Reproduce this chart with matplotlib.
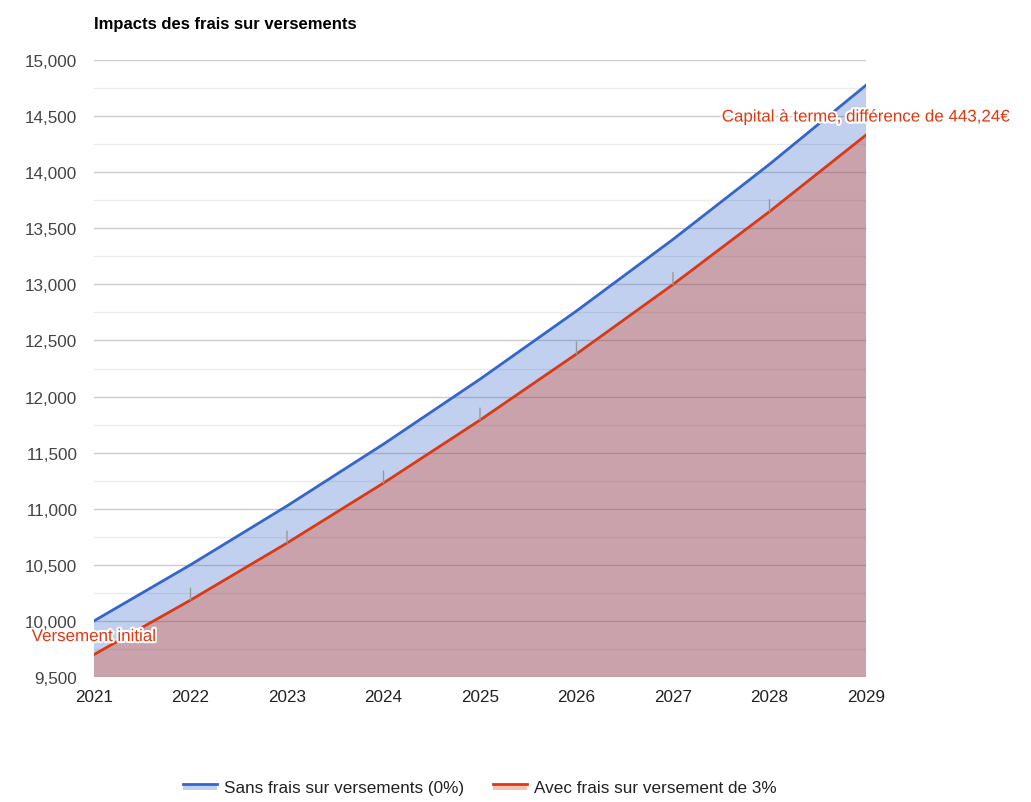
import matplotlib

matplotlib.use("Agg")
import matplotlib.pyplot as plt
from matplotlib.legend_handler import HandlerBase
from matplotlib.lines import Line2D
from matplotlib.patches import Rectangle
from matplotlib.ticker import MultipleLocator
import matplotlib.patheffects as pe

plt.rcParams["font.family"] = ["Liberation Sans", "DejaVu Sans"]

years = [2021, 2022, 2023, 2024, 2025, 2026, 2027, 2028, 2029]
sans_frais = [10000, 10500, 11025, 11576, 12155, 12763, 13401, 14071, 14775]
avec_frais = [9700, 10185, 10694, 11229, 11790, 12380, 12999, 13649, 14331]
annotations = ["Versement initial", "", "", "", "", "", "", "",
               "Capital à terme, différence de 443,24€"]
series_labels = ["Sans frais sur versements (0%)", "Avec frais sur versement de 3%"]
title = "Impacts des frais sur versements"

BLUE = "#3366cc"
RED = "#dc3912"


class AreaHandler(HandlerBase):
    """Legend sample: light box with the series line on top."""

    def create_artists(self, legend, orig, xdescent, ydescent, width, height,
                       fontsize, trans):
        color = orig.get_color()
        top = height * 0.75
        box = Rectangle((-xdescent, top - height * 0.55), width, height * 0.55,
                        facecolor=color, alpha=0.3, edgecolor="none",
                        transform=trans)
        line = Line2D([-xdescent, width - xdescent], [top, top], color=color,
                      linewidth=2, transform=trans)
        return [box, line]


fig = plt.figure(figsize=(10.31, 8.03), dpi=100)
ax = fig.add_axes([94 / 1031, 1 - 678 / 803, (866 - 94) / 1031, (678 - 61) / 803])

handles = []
for values, color in ((sans_frais, BLUE), (avec_frais, RED)):
    ax.fill_between(years, 0, values, color=color, alpha=0.3, linewidth=0)
    (line,) = ax.plot(years, values, color=color, linewidth=2)
    handles.append(line)

for year, value, text in zip(years, avec_frais, annotations):
    if text:
        ax.annotate(text, xy=(year, value), xytext=(0, 18),
                    textcoords="offset pixels", ha="center", va="center",
                    fontsize=12.2, color=RED, annotation_clip=False,
                    path_effects=[pe.withStroke(linewidth=3, foreground="white")])
    else:
        ax.annotate("", xy=(year, value), xytext=(0, 12),
                    textcoords="offset pixels",
                    arrowprops=dict(arrowstyle="-", color="#999999", lw=1,
                                    shrinkA=0, shrinkB=0))

ax.set_xlim(years[0], years[-1])
ax.set_ylim(9500, 15000)
ax.set_xticks(years)
ax.yaxis.set_major_locator(MultipleLocator(500))
ax.yaxis.set_minor_locator(MultipleLocator(250))
ax.yaxis.set_major_formatter(lambda v, _: f"{v:,.0f}")
ax.grid(axis="y", which="major", color="#cccccc", linewidth=1)
ax.grid(axis="y", which="minor", color="#ebebeb", linewidth=1)
ax.set_axisbelow(True)
ax.tick_params(axis="both", which="both", length=0)
ax.tick_params(axis="y", labelsize=12.3, labelcolor="#444444", pad=12)
ax.tick_params(axis="x", labelsize=12.3, labelcolor="#222222", pad=9)
for spine in ax.spines.values():
    spine.set_visible(False)

fig.text(94 / 1031, 1 - 24 / 803, title, fontsize=12, fontweight="bold",
         va="center", ha="left", color="#000000")

fig.legend(handles, series_labels, loc="center",
           bbox_to_anchor=(480 / 1031, 1 - 789 / 803), ncol=2, frameon=False,
           fontsize=12.3, labelcolor="#222222", handlelength=2.0,
           handletextpad=0.4, columnspacing=1.7,
           handler_map={Line2D: AreaHandler()})

fig.savefig("out.png", dpi=100)
plt.close(fig)
